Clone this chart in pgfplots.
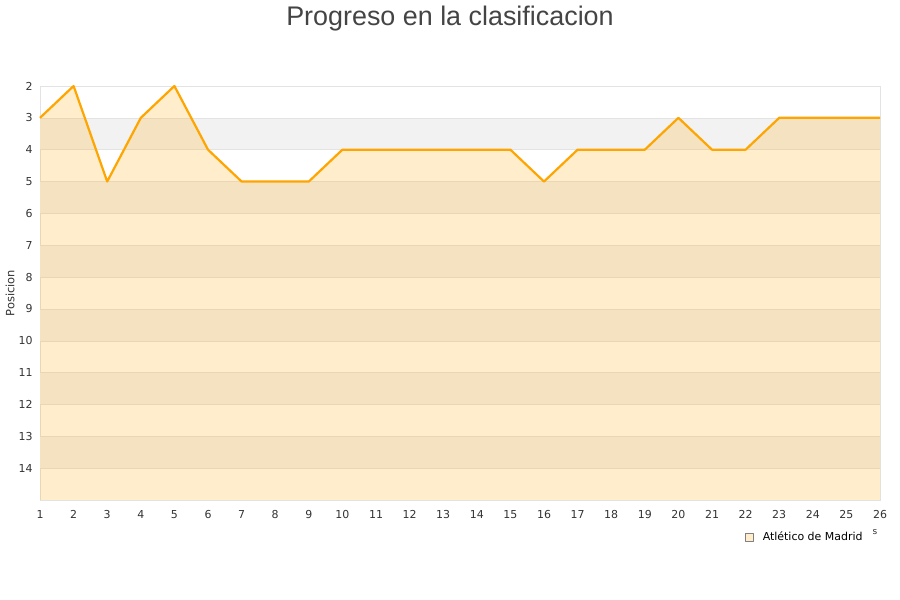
\documentclass[border=0pt]{standalone}
\usepackage{pgfplots}
\pgfplotsset{compat=1.18}
\usepackage{fontspec}
\setmainfont{DejaVu Sans}
\newfontfamily\titlefont{Liberation Sans}
\definecolor{band}{HTML}{F2F2F2}
\definecolor{gridc}{HTML}{E3E3E3}
\definecolor{lineor}{HTML}{FFA500}
\definecolor{txt}{HTML}{333333}
\definecolor{ttl}{HTML}{444444}
\begin{document}
\begin{tikzpicture}[x=1bp,y=1bp]
\useasboundingbox (0,0) rectangle (900,600);
\node[font=\titlefont\fontsize{27}{30}\selectfont, text=ttl] at (450,581) {Progreso en la clasificacion};
\node[font=\fontsize{11.5}{13}\selectfont, text=txt, rotate=90] at (10,307) {Posicion};
\node[font=\fontsize{9}{10}\selectfont, text=txt] at (875,68) {s};
\begin{axis}[
    at={(40bp,100bp)}, anchor=south west,
    scale only axis, width=840bp, height=414bp,
    xmin=1, xmax=26, ymin=2, ymax=15,
    y dir=reverse,
    xtick={1,...,26}, ytick={2,...,14},
    tick style={draw=none},
    axis line style={draw=gridc},
    ticklabel style={font=\fontsize{11}{12}\selectfont, text=txt},
    /pgf/number format/assume math mode=true,
    xticklabel style={yshift=-6.5bp},
    yticklabel style={xshift=-4bp},
    clip=false,
    legend style={at={(rel axis cs:0.836,-0.09)}, anchor=west, draw=none, fill=none,
        font=\fontsize{11}{12}\selectfont, text=black},
    legend cell align=left,
]
\foreach \k in {3,5,...,13} {
  \edef\tmp{\noexpand\fill[band] (axis cs:1,\k) rectangle (axis cs:26,\k+1);}
  \tmp
}
\foreach \k in {3,...,14} {
  \edef\tmp{\noexpand\draw[gridc] (axis cs:1,\k) -- (axis cs:26,\k);}
  \tmp
}
\addplot[fill=lineor, fill opacity=0.2, draw=none, forget plot] coordinates {
 (1,3) (2,2) (3,5) (4,3) (5,2) (6,4) (7,5) (8,5) (9,5) (10,4) (11,4) (12,4) (13,4)
 (14,4) (15,4) (16,5) (17,4) (18,4) (19,4) (20,3) (21,4) (22,4) (23,3) (24,3) (25,3) (26,3)
 (26,15) (1,15)
};
\addplot[lineor, line width=2.2bp, line join=round,
  legend image code/.code={\draw[draw=gray, fill=lineor!20, line width=0.5bp] (0bp,-4bp) rectangle (8bp,4bp); \path (14bp,0bp);}]
  coordinates {
 (1,3) (2,2) (3,5) (4,3) (5,2) (6,4) (7,5) (8,5) (9,5) (10,4) (11,4) (12,4) (13,4)
 (14,4) (15,4) (16,5) (17,4) (18,4) (19,4) (20,3) (21,4) (22,4) (23,3) (24,3) (25,3) (26,3)
};
\addlegendentry{Atlético de Madrid}
\end{axis}
\end{tikzpicture}
\end{document}
